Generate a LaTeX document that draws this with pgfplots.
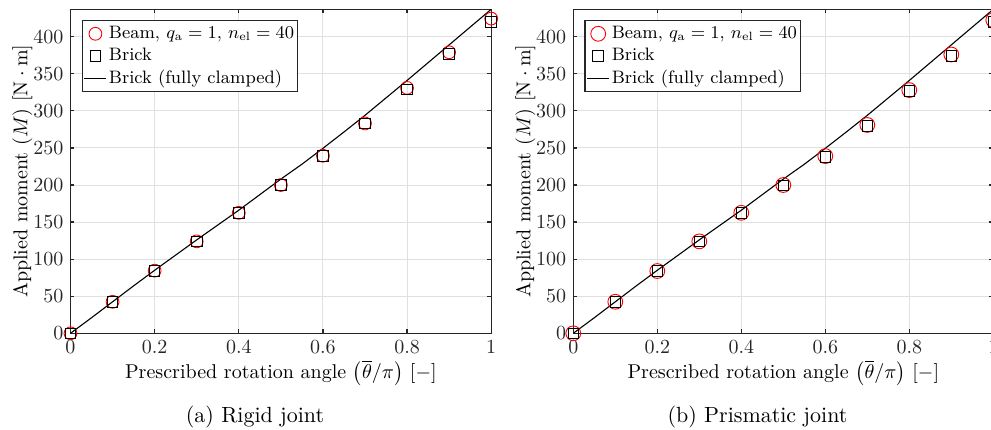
\documentclass[border=0pt]{standalone}
\usepackage{pgfplots}
\usepackage{pgfplotstable}
\pgfplotsset{compat=1.18}

\definecolor{axgray}{gray}{0.15}
\definecolor{gridgray}{gray}{0.88}

% Fully clamped brick reference curve
\pgfplotstableread{
x     M
0.00  0
0.05  21
0.10  42.5
0.15  64
0.20  85
0.25  105.5
0.30  126
0.35  146
0.40  166
0.45  187
0.50  208
0.55  228
0.60  249.5
0.65  271.5
0.70  294
0.75  317.5
0.80  341
0.85  365
0.90  389
0.95  413
1.00  437
}\clampedcurve

\pgfplotsset{
  momentaxis/.style={
    scale only axis, width=210.35pt, height=162pt,
    xmin=0, xmax=1, ymin=0, ymax=437,
    xtick={0,0.2,0.4,0.6,0.8,1}, ytick={0,50,100,150,200,250,300,350,400},
    tick align=inside, major tick length=2pt,
    grid=major, major grid style={gridgray, line width=0.5pt},
    axis line style={axgray, line width=0.7pt},
    every tick/.style={axgray, line width=0.6pt},
    tick label style={font=\fontsize{9.75}{11.7}\selectfont, text=axgray},
    label style={font=\fontsize{9.75}{11.7}\selectfont, text=axgray},
    xlabel={Prescribed rotation angle $\left(\overline{\theta}/\pi\right)$ $[-]$},
    ylabel={Applied moment $(M)$ $[\mathrm{N}\cdot\mathrm{m}]$},
    every axis x label/.style={at={(axis description cs:0.5,-0.1389)}, anchor=base},
    every axis y label/.style={at={(axis description cs:-0.1141,0.5)}, anchor=center, rotate=90},
    legend style={at={(0.0266,0.967)}, anchor=north west, draw=axgray, line width=0.6pt,
      font=\fontsize{9}{10.8}\selectfont, inner xsep=0.8pt, inner ysep=1pt,
      nodes={inner sep=1pt, text height=6.9pt, text depth=2.3pt}},
    legend cell align=left,
    legend image code/.code={%
      \draw[mark repeat=2, mark phase=2, #1] plot coordinates {(0pt,0pt) (5.5pt,0pt) (11pt,0pt)};},
    clip marker paths=false,
  },
  beam/.style={only marks, mark=o, red, mark options={line width=0.45pt}},
  brick/.style={only marks, mark=square, black, mark size=2.65pt, mark options={line width=0.5pt}},
  clamped/.style={no marks, black, line width=0.55pt},
}

\begin{document}
\begin{tikzpicture}
\useasboundingbox (0,0) rectangle (495.5pt,214.5pt);
\clip (0,0) rectangle (495.5pt,214.5pt);

% (a) Rigid joint
\begin{axis}[momentaxis, at={(35.25pt,47.85pt)}, anchor=south west]
\addplot[beam, mark size=3.2pt] coordinates {
  (0,0) (0.1,42.5) (0.2,84.5) (0.3,124) (0.4,162.5) (0.5,200)
  (0.6,239.5) (0.7,283) (0.8,331) (0.9,379) (1.0,424.5)};
\addlegendentry{Beam, $q_\mathrm{a}=1$, $n_\mathrm{el}=40$}
\addplot[brick] coordinates {
  (0,0) (0.1,42.5) (0.2,84) (0.3,124) (0.4,162.5) (0.5,200)
  (0.6,239.5) (0.7,283) (0.8,329) (0.9,376.5) (1.0,420)};
\addlegendentry{Brick}
\addplot[clamped] table[x=x, y=M] {\clampedcurve};
\addlegendentry{Brick (fully clamped)}
\end{axis}

% (b) Prismatic joint
\begin{axis}[momentaxis, at={(286.65pt,47.85pt)}, anchor=south west, width=210pt]
\addplot[beam, mark size=3.7pt] coordinates {
  (0,0) (0.1,42.5) (0.2,84) (0.3,124) (0.4,162.5) (0.5,200)
  (0.6,239) (0.7,281) (0.8,328) (0.9,376) (1.0,422.5)};
\addlegendentry{Beam, $q_\mathrm{a}=1$, $n_\mathrm{el}=40$}
\addplot[brick] coordinates {
  (0,0) (0.1,42.5) (0.2,84) (0.3,124) (0.4,162.5) (0.5,199.5)
  (0.6,238) (0.7,279.5) (0.8,326.5) (0.9,374) (1.0,420)};
\addlegendentry{Brick}
\addplot[clamped] table[x=x, y=M] {\clampedcurve};
\addlegendentry{Brick (fully clamped)}
\end{axis}

\node[anchor=base, font=\fontsize{10.98}{13}\selectfont] at (127.5pt,3.15pt) {(a) Rigid joint};
\node[anchor=base, font=\fontsize{10.98}{13}\selectfont] at (378.75pt,3.15pt) {(b) Prismatic joint};
\end{tikzpicture}
\end{document}
